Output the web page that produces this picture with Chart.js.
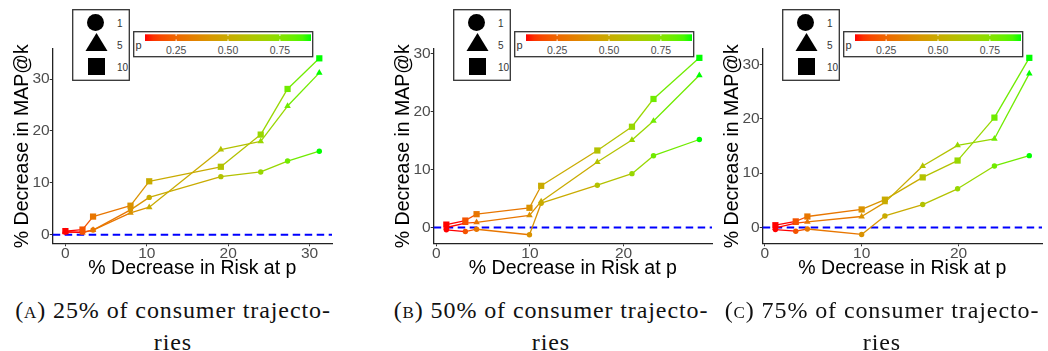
<!DOCTYPE html>
<html>
<head>
<meta charset="utf-8">
<script src="https://cdn.jsdelivr.net/npm/chart.js@4.4.1/dist/chart.umd.min.js"></script>
<style>
  body { margin: 0; background: #fff; }
  #page { position: relative; width: 1048px; height: 351px; overflow: hidden; font-family: "Liberation Sans", Arial, sans-serif; }
  canvas { position: absolute; top: 0; }
  .legend { position: absolute; }
  .caption { position: absolute; width: 380px; text-align: center; white-space: nowrap;
             font-family: "Liberation Serif", "DejaVu Serif", serif; font-size: 24px; line-height: 24px;
             letter-spacing: 0.9px; color: #111; }
  .sc { font-variant: small-caps; }
</style>
</head>
<body>
<div id="page"></div>
<script>
// p values (colour) shared by every panel, one point per p
const pValues = [0.1, 0.2, 0.3, 0.4, 0.5, 0.6, 0.7, 0.8, 0.9];
const kValues = [1, 5, 10];
const colorbarTicks = [0.25, 0.5, 0.75];
const xTickValues = [0, 10, 20, 30];
const yTickValues = [0, 10, 20, 30];
const refLine = 0;

// (A) 25% of consumer trajectories
const riskA = [0, 2.1, 3.4, 8.0, 10.3, 19.1, 24.0, 27.3, 31.2];
const mapA_k1 = [0.5, 0.5, 0.9, 4.8, 7.2, 11.2, 12.1, 14.2, 16.1];
const mapA_k5 = [0.6, 0.4, 0.9, 4.2, 5.3, 16.4, 18.0, 24.8, 31.2];
const mapA_k10 = [0.7, 1.0, 3.5, 5.6, 10.3, 13.1, 19.3, 28.1, 34.0];

// (B) 50%
const riskB = [1.07, 3.1, 4.3, 9.95, 11.2, 17.2, 20.9, 23.2, 28.1];
const mapB_k1 = [-0.4, -0.7, -0.3, -1.25, 4.2, 7.3, 9.3, 12.4, 15.2];
const mapB_k5 = [0.0, 0.75, 0.9, 2.1, 4.5, 11.3, 15.1, 18.4, 26.3];
const mapB_k10 = [0.5, 1.2, 2.3, 3.4, 7.2, 13.3, 17.4, 22.2, 29.3];

// (C) 75%
const riskC = [1.1, 3.2, 4.4, 10.0, 12.4, 16.3, 19.9, 23.7, 27.3];
const mapC_k1 = [-0.4, -0.7, -0.3, -1.3, 2.1, 4.2, 7.1, 11.3, 13.2];
const mapC_k5 = [-0.1, 0.8, 1.0, 2.0, 4.6, 11.3, 15.1, 16.3, 28.3];
const mapC_k10 = [0.4, 1.1, 2.0, 3.3, 5.1, 9.2, 12.3, 20.2, 31.2];

const captions = [
  ["A", "25% of consumer trajecto-", "ries"],
  ["B", "50% of consumer trajecto-", "ries"],
  ["C", "75% of consumer trajecto-", "ries"]
];

// layout
const CANVAS_H = 290;
const PLOT_TOP = 49;
const PLOT_BOTTOM = 243.3;
const Y_AXIS_W = 52.7;
const RIGHT_PAD = 6;

const panels = [
  { risk: riskA, series: [mapA_k1, mapA_k5, mapA_k10], plotLeft: 52.7, plotRight: 331.7,
    xMin: -1.56, xMax: 32.76, yMin: -1.65, yMax: 35.8, capCenter: 173 },
  { risk: riskB, series: [mapB_k1, mapB_k5, mapB_k10], plotLeft: 433.3, plotRight: 712,
    xMin: -0.28, xMax: 29.45, yMin: -2.73, yMax: 30.83, capCenter: 551 },
  { risk: riskC, series: [mapC_k1, mapC_k5, mapC_k10], plotLeft: 762.5, plotRight: 1041.8,
    xMin: -0.21, xMax: 28.61, yMin: -2.93, yMax: 32.83, capCenter: 882 }
];

const shapes = ["circle", "triangle", "rect"];
const radii = [2.7, 3.8, 4.4];

// red -> green gradient interpolated in Lab, like ggplot's scale_colour_gradient
function toLinear(c) { c /= 255; return c <= 0.04045 ? c / 12.92 : Math.pow((c + 0.055) / 1.055, 2.4); }
function toSrgb(c) {
  const v = c <= 0.0031308 ? 12.92 * c : 1.055 * Math.pow(c, 1 / 2.4) - 0.055;
  return Math.round(Math.min(1, Math.max(0, v)) * 255);
}
function rgbToLab(rgb) {
  const r = toLinear(rgb[0]), g = toLinear(rgb[1]), b = toLinear(rgb[2]);
  const X = (0.4124564 * r + 0.3575761 * g + 0.1804375 * b) / 0.95047;
  const Y = 0.2126729 * r + 0.7151522 * g + 0.0721750 * b;
  const Z = (0.0193339 * r + 0.1191920 * g + 0.9503041 * b) / 1.08883;
  const f = t => t > 0.008856 ? Math.cbrt(t) : 7.787 * t + 16 / 116;
  return [116 * f(Y) - 16, 500 * (f(X) - f(Y)), 200 * (f(Y) - f(Z))];
}
function labToRgb(lab) {
  const fy = (lab[0] + 16) / 116, fx = fy + lab[1] / 500, fz = fy - lab[2] / 200;
  const finv = t => t * t * t > 0.008856 ? t * t * t : (t - 16 / 116) / 7.787;
  const X = finv(fx) * 0.95047, Y = finv(fy), Z = finv(fz) * 1.08883;
  return [
    toSrgb(3.2404542 * X - 1.5371385 * Y - 0.4985314 * Z),
    toSrgb(-0.9692660 * X + 1.8760108 * Y + 0.0415560 * Z),
    toSrgb(0.0556434 * X - 0.2040259 * Y + 1.0572252 * Z)
  ];
}
const LOW = rgbToLab([255, 0, 0]);
const HIGH = rgbToLab([0, 255, 0]);
const P_MIN = Math.min(...pValues), P_MAX = Math.max(...pValues);
function colorFor(p) {
  const t = (p - P_MIN) / (P_MAX - P_MIN);
  const c = labToRgb(LOW.map((v, i) => v + (HIGH[i] - v) * t));
  return "rgb(" + c.join(",") + ")";
}

const zeroLine = {
  id: "zeroLine",
  beforeDatasetsDraw(chart) {
    const { ctx, chartArea, scales } = chart;
    const py = scales.y.getPixelForValue(refLine);
    ctx.save();
    ctx.strokeStyle = "#0000ff";
    ctx.lineWidth = 2;
    ctx.setLineDash([7.5, 4.5]);
    ctx.beginPath();
    ctx.moveTo(chartArea.left, py);
    ctx.lineTo(chartArea.right, py);
    ctx.stroke();
    ctx.restore();
  }
};

const page = document.getElementById("page");
const tickFont = { family: "Liberation Sans", size: 15.5 };
const titleFont = { family: "Liberation Sans", size: 19.5 };

function axisCommon(tickValues) {
  return {
    type: "linear",
    afterBuildTicks: function (scale) {
      scale.ticks = tickValues.filter(v => v >= scale.min && v <= scale.max).map(v => ({ value: v }));
    },
    grid: { drawOnChartArea: false, drawTicks: true, tickLength: 3, color: "#333", lineWidth: 1 },
    border: { display: true, color: "#222", width: 1.3 },
    ticks: { font: tickFont, color: "#4d4d4d", padding: 0, maxRotation: 0, autoSkip: false }
  };
}

function makePanel(cfg, idx) {
  const canvas = document.createElement("canvas");
  const left = cfg.plotLeft - Y_AXIS_W;
  canvas.width = Math.round(cfg.plotRight - left + RIGHT_PAD);
  canvas.height = CANVAS_H;
  canvas.style.left = left + "px";
  page.appendChild(canvas);

  const xAxis = axisCommon(xTickValues);
  xAxis.min = cfg.xMin;
  xAxis.max = cfg.xMax;
  xAxis.ticks.padding = -1.5;
  xAxis.afterFit = s => { s.height = CANVAS_H - PLOT_BOTTOM; };
  xAxis.title = { display: true, text: "% Decrease in Risk at p", font: titleFont, color: "#000",
                  padding: { top: 0, bottom: 9.3 } };

  const yAxis = axisCommon(yTickValues);
  yAxis.min = cfg.yMin;
  yAxis.max = cfg.yMax;
  yAxis.afterFit = s => { s.width = Y_AXIS_W; };
  yAxis.title = { display: true, text: "% Decrease in MAP@k", font: titleFont, color: "#000",
                  padding: { top: 11.3, bottom: 0 } };

  new Chart(canvas, {
    type: "line",
    data: {
      datasets: kValues.map((k, i) => ({
        label: "k = " + k,
        data: cfg.risk.map((x, j) => ({ x: x, y: cfg.series[i][j] })),
        pointStyle: shapes[i],
        pointRadius: radii[i],
        pointHoverRadius: radii[i],
        pointBackgroundColor: pValues.map(colorFor),
        pointBorderColor: pValues.map(colorFor),
        pointBorderWidth: 0,
        borderWidth: 1.3,
        borderColor: colorFor(P_MIN),
        segment: { borderColor: ctx => colorFor(pValues[ctx.p0DataIndex]) },
        tension: 0,
        clip: false
      }))
    },
    options: {
      responsive: false,
      animation: false,
      events: [],
      layout: { padding: { left: 0, top: PLOT_TOP, right: RIGHT_PAD, bottom: 0 } },
      plugins: { legend: { display: false }, tooltip: { enabled: false } },
      scales: { x: xAxis, y: yAxis }
    },
    plugins: [zeroLine]
  });

  addShapeLegend(cfg.plotLeft + 19.3);
  addColorbar(cfg.plotLeft + 80.6);
  addCaption(captions[idx], cfg.capCenter);
}

const SVG = "http://www.w3.org/2000/svg";
function svgEl(tag, attrs) {
  const el = document.createElementNS(SVG, tag);
  for (const a in attrs) el.setAttribute(a, attrs[a]);
  return el;
}

function addShapeLegend(x) {
  const svg = svgEl("svg", { width: 58, height: 72 });
  svg.classList.add("legend");
  svg.style.left = x + "px";
  svg.style.top = "8.5px";
  svg.appendChild(svgEl("rect", { x: 0.7, y: 0.7, width: 56.6, height: 70.6, fill: "#fff", stroke: "#333", "stroke-width": 1.3 }));
  svg.appendChild(svgEl("circle", { cx: 23.5, cy: 13.5, r: 8.5, fill: "#000" }));
  svg.appendChild(svgEl("polygon", { points: "24.5,24 13.5,42 35.5,42", fill: "#000" }));
  svg.appendChild(svgEl("rect", { x: 16, y: 49, width: 17, height: 17, fill: "#000" }));
  const ys = [14, 36, 58];
  kValues.forEach((k, i) => {
    const t = svgEl("text", { x: 45, y: ys[i] + 4, fill: "#333", "font-size": 10, "font-family": "Liberation Sans" });
    t.textContent = String(k);
    svg.appendChild(t);
  });
  page.appendChild(svg);
}

function addColorbar(x) {
  const W = 180, H = 26, barL = 12, barR = 178, barT = 3.3, barB = 10;
  const svg = svgEl("svg", { width: W + 1, height: H + 1 });
  svg.classList.add("legend");
  svg.style.left = x + "px";
  svg.style.top = "31px";
  const defs = svgEl("defs", {});
  const grad = svgEl("linearGradient", { id: "grad" + x, x1: 0, x2: 1, y1: 0, y2: 0 });
  for (let i = 0; i <= 20; i++) {
    const t = i / 20;
    grad.appendChild(svgEl("stop", { offset: t, "stop-color": colorFor(P_MIN + t * (P_MAX - P_MIN)) }));
  }
  defs.appendChild(grad);
  svg.appendChild(defs);
  svg.appendChild(svgEl("rect", { x: 0.7, y: 0.7, width: W - 1, height: H - 1, fill: "#fff", stroke: "#333", "stroke-width": 1.3 }));
  svg.appendChild(svgEl("rect", { x: barL, y: barT, width: barR - barL, height: barB - barT, fill: "url(#grad" + x + ")" }));
  const px = p => barL + (p - P_MIN) / (P_MAX - P_MIN) * (barR - barL);
  colorbarTicks.forEach(p => {
    const tx = px(p);
    svg.appendChild(svgEl("line", { x1: tx, x2: tx, y1: barT, y2: barT + 1.6, stroke: "#fff", "stroke-width": 1 }));
    svg.appendChild(svgEl("line", { x1: tx, x2: tx, y1: barB - 1.6, y2: barB, stroke: "#fff", "stroke-width": 1 }));
    const t = svgEl("text", { x: tx, y: 22.5, fill: "#4d4d4d", "font-size": 10.5, "font-family": "Liberation Sans", "text-anchor": "middle" });
    t.textContent = p.toFixed(2);
    svg.appendChild(t);
  });
  const pl = svgEl("text", { x: 2.5, y: 17.5, fill: "#333", "font-size": 11, "font-family": "Liberation Sans" });
  pl.textContent = "p";
  svg.appendChild(pl);
  page.appendChild(svg);
}

function addCaption(cap, center) {
  const l1 = document.createElement("div");
  l1.className = "caption";
  l1.style.left = (center - 190) + "px";
  l1.style.top = "298px";
  l1.innerHTML = '(<span class="sc">' + cap[0].toLowerCase() + '</span>) ' + cap[1];
  page.appendChild(l1);
  const l2 = document.createElement("div");
  l2.className = "caption";
  l2.style.left = (center - 190) + "px";
  l2.style.top = "330px";
  l2.textContent = cap[2];
  page.appendChild(l2);
}

panels.forEach(makePanel);
</script>
</body>
</html>
